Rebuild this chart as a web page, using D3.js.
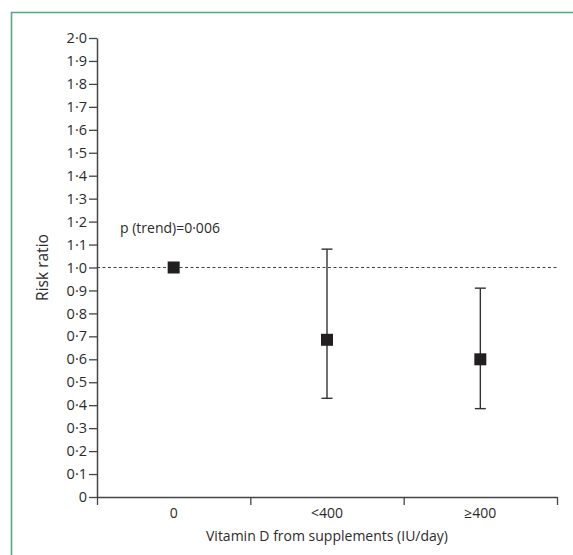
<!DOCTYPE html>
<html>
<head>
<meta charset="utf-8">
<script src="https://cdn.jsdelivr.net/npm/d3@7"></script>
<style>
  body { margin: 0; background: #fff; }
  svg { display: block; }
  text { font-family: "Open Sans", "Noto Sans", sans-serif; fill: #2b2b2b; }
</style>
</head>
<body>
<svg></svg>
<script>
const width = 573;
const height = 555;

// data
const categories = ["0", "<400", "≥400"];
const riskRatio = [1.0, 0.685, 0.6];
const lowerCI = [null, 0.43, 0.385];
const upperCI = [null, 1.08, 0.91];
const yTicks = d3.range(0, 21).map(i => i / 10);
const trendLabel = "p (trend)=0·006";

const margin = { left: 97, right: 16, top: 38, bottom: 58 };

const svg = d3.select("svg").attr("width", width).attr("height", height);

// green frame (top and left only)
svg.append("path")
  .attr("d", "M11.5," + height + " V12.5 H" + width)
  .attr("fill", "none")
  .attr("stroke", "#55a97f")
  .attr("stroke-width", 1.6);

const xScale = d3.scaleBand()
  .domain(categories)
  .range([margin.left, width - margin.right]);

const yScale = d3.scaleLinear()
  .domain([0, 2])
  .range([height - margin.bottom, margin.top]);

const fmt = d => d === 0 ? "0" : d3.format(".1f")(d).replace(".", "·");

// y axis
const yAxis = d3.axisLeft(yScale).tickValues(yTicks).tickFormat(fmt).tickSize(8).tickSizeOuter(0);
const gy = svg.append("g")
  .attr("transform", "translate(" + margin.left + ",0)")
  .call(yAxis);
gy.attr("font-family", null).attr("font-size", null);
gy.select(".domain").attr("stroke", "#444").attr("stroke-width", 1.5);
gy.selectAll(".tick line").attr("stroke", "#444").attr("stroke-width", 1.3);
gy.selectAll(".tick text").attr("x", -10).style("font-size", "14.5px").attr("fill", "#2b2b2b");

// x axis: ticks at band boundaries, labels at band centres
const xb = d3.scaleLinear().domain([0, categories.length]).range([margin.left, width - margin.right]);
const gx = svg.append("g")
  .attr("transform", "translate(0," + (height - margin.bottom) + ")")
  .call(d3.axisBottom(xb).tickValues(d3.range(categories.length + 1)).tickFormat("").tickSize(8).tickSizeOuter(0));
gx.select(".domain").attr("stroke", "#444").attr("stroke-width", 1.5);
gx.selectAll(".tick line").attr("stroke", "#444").attr("stroke-width", 1.3);

svg.append("g")
  .selectAll("text")
  .data(categories)
  .enter()
  .append("text")
  .attr("x", d => xScale(d) + xScale.bandwidth() / 2)
  .attr("y", height - margin.bottom + 21)
  .attr("text-anchor", "middle")
  .style("font-size", "14px")
  .text(d => d);

// axis titles
svg.append("text")
  .attr("x", (margin.left + width - margin.right) / 2)
  .attr("y", 541)
  .attr("text-anchor", "middle")
  .style("font-size", "14px")
  .text("Vitamin D from supplements (IU/day)");

svg.append("text")
  .attr("transform", "translate(48," + yScale(1) + ") rotate(-90)")
  .attr("text-anchor", "middle")
  .style("font-size", "15.5px")
  .text("Risk ratio");

// reference line at 1
svg.append("line")
  .attr("x1", margin.left)
  .attr("x2", width - margin.right)
  .attr("y1", yScale(1))
  .attr("y2", yScale(1))
  .attr("stroke", "#444")
  .attr("stroke-width", 1.2)
  .attr("stroke-dasharray", "3,2.5");

// trend label
svg.append("text")
  .attr("x", 120)
  .attr("y", yScale(1.15))
  .style("font-size", "14px")
  .text(trendLabel);

// error bars
const rows = categories.map((c, i) => ({ c: c, v: riskRatio[i], lo: lowerCI[i], hi: upperCI[i] }));
const cx = d => xScale(d.c) + xScale.bandwidth() / 2;
const cap = 5.5;
const bars = svg.append("g").selectAll("g")
  .data(rows.filter(d => d.lo != null))
  .enter()
  .append("g")
  .attr("stroke", "#333")
  .attr("stroke-width", 1.4);
bars.append("line")
  .attr("x1", cx).attr("x2", cx)
  .attr("y1", d => yScale(d.lo)).attr("y2", d => yScale(d.hi));
bars.append("line")
  .attr("x1", d => cx(d) - cap).attr("x2", d => cx(d) + cap)
  .attr("y1", d => yScale(d.lo)).attr("y2", d => yScale(d.lo));
bars.append("line")
  .attr("x1", d => cx(d) - cap).attr("x2", d => cx(d) + cap)
  .attr("y1", d => yScale(d.hi)).attr("y2", d => yScale(d.hi));

// points
const size = 12;
svg.append("g").selectAll("rect")
  .data(rows)
  .enter()
  .append("rect")
  .attr("x", d => cx(d) - size / 2)
  .attr("y", d => yScale(d.v) - size / 2)
  .attr("width", size)
  .attr("height", size)
  .attr("fill", "#231f20");
</script>
</body>
</html>
